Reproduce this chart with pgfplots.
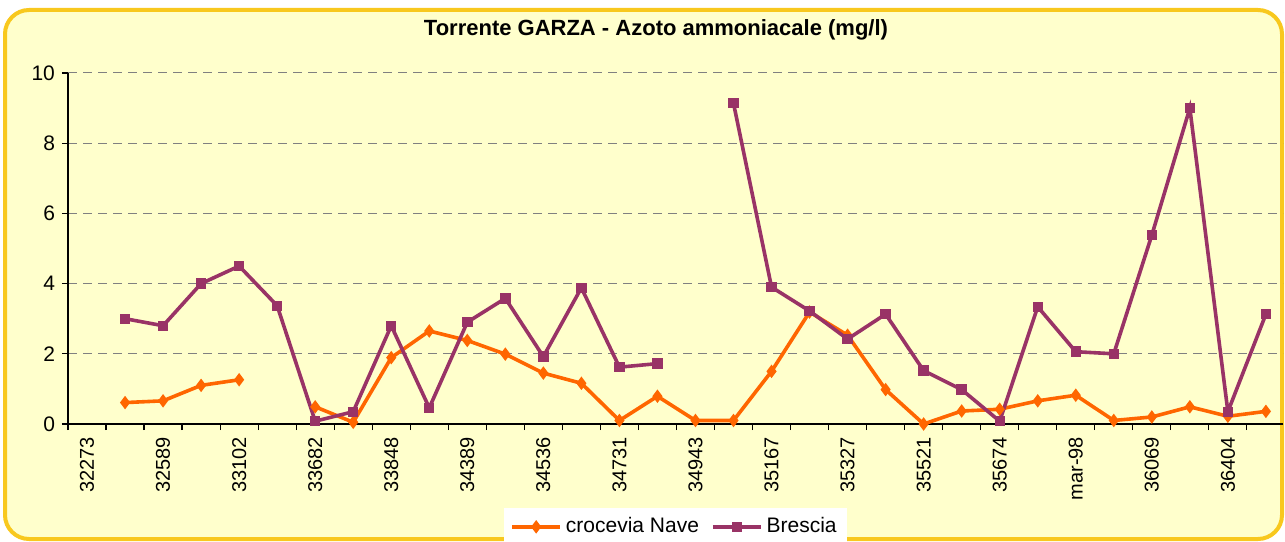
\documentclass[border=0pt]{standalone}
\usepackage{fontspec}
\setmainfont{Liberation Sans}
\usepackage{pgfplots}
\usepackage{pgfplotstable}
\pgfplotsset{compat=1.18}
\definecolor{nave}{RGB}{255,102,0}
\definecolor{brescia}{RGB}{153,51,102}
\definecolor{chartbg}{RGB}{255,255,204}
\definecolor{chartframe}{RGB}{248,200,30}
\definecolor{gridgray}{RGB}{128,128,128}

% cat = sampling index, nan = no sample
\pgfplotstableread{
cat nave brescia
0  nan  nan
1  0.61 3.00
2  0.66 2.80
3  1.10 4.00
4  1.26 4.50
5  nan  3.37
6  0.49 0.08
7  0.05 0.35
8  1.89 2.80
9  2.65 0.46
10 2.38 2.90
11 1.99 3.58
12 1.45 1.92
13 1.16 3.88
14 0.10 1.62
15 0.79 1.72
16 0.10 nan
17 0.10 9.14
18 1.50 3.90
19 3.19 3.22
20 2.53 2.42
21 0.98 3.13
22 0.00 1.52
23 0.37 0.98
24 0.42 0.08
25 0.66 3.34
26 0.82 2.06
27 0.10 2.00
28 0.20 5.38
29 0.49 9.00
30 0.22 0.35
31 0.36 3.13
}\garza

\begin{document}
\begin{tikzpicture}[x=0.5pt,y=0.5pt]
\path[use as bounding box] (0,0) rectangle (1285,541);
\draw[chartframe, line width=2pt, fill=chartbg, rounded corners=12pt] (5,2) rectangle (1282,531);
\node[font=\bfseries\fontsize{11}{13}\selectfont] at (656,511) {Torrente GARZA - Azoto ammoniacale (mg/l)};
\begin{axis}[
  at={(34pt,58.5pt)}, anchor=south west,
  width=607.5pt, height=175.5pt, scale only axis,
  xmin=-0.5, xmax=31.45, ymin=0, ymax=10,
  axis x line*=bottom, axis y line*=left,
  axis line style={-, black, line width=0.6pt},
  clip=false,
  unbounded coords=jump,
  tick align=outside,
  xtick={0,2,...,30},
  xticklabels={32273,32589,33102,33682,33848,34389,34536,34731,34943,35167,35327,35521,35674,mar-98,36069,36404},
  major x tick style={draw=none},
  minor xtick={-0.5,0.5,...,30.5},
  minor x tick style={black, line width=0.6pt},
  minor tick length=3pt,
  x tick label style={rotate=90, anchor=east, font=\fontsize{10}{12}\selectfont},
  ytick={0,2,...,10},
  major tick length=3pt,
  y tick style={black, line width=0.6pt},
  y tick label style={font=\fontsize{10.5}{12}\selectfont},
  /pgf/number format/assume math mode=true,
  ymajorgrids,
  grid style={gridgray, dash pattern=on 4.5pt off 3pt, line width=0.5pt},
  legend columns=2,
  legend style={at={(0.5,-0.293)}, anchor=center, draw=none, fill=white,
    font=\fontsize{10.5}{12}\selectfont, inner xsep=3pt, inner ysep=3pt,
    /tikz/every even column/.append style={column sep=4pt}},
  legend image code/.code={\draw[mark repeat=2,mark phase=2] plot coordinates {(0pt,0pt)(12pt,0pt)(24pt,0pt)};},
]
\addplot[nave, line width=1.8pt, mark=diamond*, mark size=1.9pt, mark options={solid}] table[x=cat, y=nave] {\garza};
\addlegendentry{crocevia Nave}
\addplot[brescia, line width=1.8pt, mark=square*, mark size=1.7pt, mark options={solid}] table[x=cat, y=brescia] {\garza};
\addlegendentry{Brescia}
\end{axis}
\end{tikzpicture}
\end{document}
